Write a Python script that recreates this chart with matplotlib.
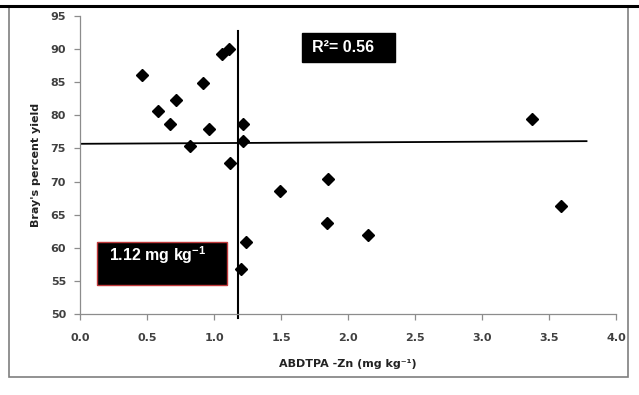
import matplotlib.pyplot as plt
from matplotlib.patches import Rectangle
from matplotlib.lines import Line2D

zn = [0.46, 0.58, 0.67, 0.72, 0.82, 0.92, 0.96, 1.06, 1.11, 1.12,
      1.22, 1.22, 1.49, 1.85, 1.84, 2.15, 1.24, 1.20, 3.37, 3.59]
yield_pct = [86.1, 80.7, 78.7, 82.3, 75.3, 84.9, 77.9, 89.3, 90.0, 72.8,
             78.7, 76.1, 68.6, 70.4, 63.8, 61.9, 60.9, 56.8, 79.4, 66.3]

critical_x = 1.18
mean_line_x = [0.0, 3.78]
mean_line_y = [75.7, 76.1]

xticks = [0.0, 0.5, 1.0, 1.5, 2.0, 2.5, 3.0, 3.5, 4.0]
yticks = [50, 55, 60, 65, 70, 75, 80, 85, 90, 95]

plt.rcParams['mathtext.fontset'] = 'custom'
plt.rcParams['mathtext.rm'] = 'Liberation Sans:bold'
plt.rcParams['mathtext.bf'] = 'Liberation Sans:bold'
plt.rcParams['mathtext.it'] = 'Liberation Sans:bold'

fig = plt.figure(figsize=(6.39, 3.95), dpi=100)
ax = fig.add_axes([0.1252, 0.2051, 0.8388, 0.7544])

grey = '#8c8c8c'
txt = '#404040'

ax.plot(zn, yield_pct, linestyle='none', marker='D', ms=6.2, color='black')

# dividing lines
ax.plot([critical_x, critical_x], [49.4, 92.7], color='black', lw=1.5, clip_on=False)
ax.plot(mean_line_x, mean_line_y, color='black', lw=1.3)

ax.set_xlim(0, 4.0)
ax.set_ylim(50, 95)
ax.set_xticks(xticks)
ax.set_xticklabels([f'{t:.1f}' for t in xticks])
ax.set_yticks(yticks)

for s in ['top', 'right']:
    ax.spines[s].set_visible(False)
for s in ['left', 'bottom']:
    ax.spines[s].set_color(grey)
    ax.spines[s].set_linewidth(0.9)
ax.tick_params(direction='out', length=4, color=grey, width=0.9,
               labelsize=8, labelcolor=txt, pad=6)
for lab in ax.get_xticklabels() + ax.get_yticklabels():
    lab.set_fontweight('bold')
ax.tick_params(axis='x', pad=10)

ax.set_xlabel('ABDTPA -Zn (mg kg⁻¹)', fontsize=8, fontweight='bold',
              color='#222222', labelpad=11)
ax.set_ylabel("Bray's percent yield", fontsize=8, fontweight='bold',
              color='#222222', labelpad=7)

box_font = 'Liberation Sans'
ax.add_patch(Rectangle((1.66, 88.1), 0.69, 4.4, facecolor='black',
                       edgecolor='black', zorder=5))
ax.text(1.73, 90.3, 'R²= 0.56', color='white', fontsize=11.5, family=box_font,
        fontweight='bold', ha='left', va='center', zorder=6)

ax.add_patch(Rectangle((0.13, 54.4), 0.97, 6.5, facecolor='black',
                       edgecolor='#c0393b', lw=1, zorder=5))
ax.text(0.22, 58.9, '1.12 mg kg$^{-1}$', color='white', fontsize=11.5, family=box_font,
        fontweight='bold', ha='left', va='center', zorder=6)

# chart area frame
fig.patches.append(Rectangle((0.014, 0.0456), 0.969, 0.939, transform=fig.transFigure,
                             fill=False, edgecolor='#7f7f7f', lw=1.2))
fig.lines.append(Line2D([0, 1], [0.985, 0.985], transform=fig.transFigure,
                        color='black', lw=2.2))

fig.savefig('out.png', dpi=100)
